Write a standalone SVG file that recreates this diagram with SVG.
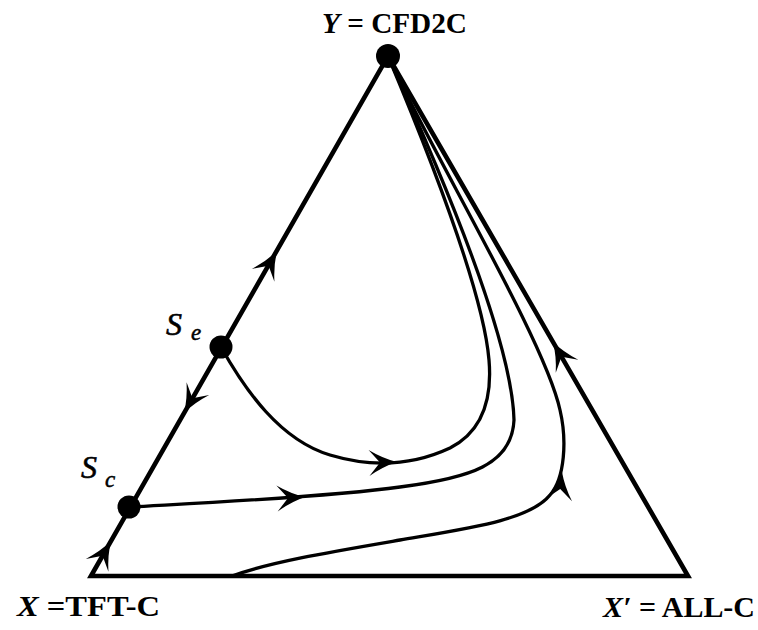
<svg xmlns="http://www.w3.org/2000/svg" width="758" height="630" viewBox="0 0 758 630">
<style>
.edge{fill:none;stroke:#000;stroke-width:4.6;stroke-linejoin:miter}
.flow{fill:none;stroke:#000;stroke-width:3.3;stroke-linecap:round}
.dot{fill:#000}
.lbl{font-family:"Liberation Serif","DejaVu Serif",serif;font-size:29px;font-weight:bold;fill:#000}
.it{font-style:italic}
.sv{font-family:"Liberation Serif","DejaVu Serif",serif;font-style:italic;font-size:32px;fill:#000;stroke:#000;stroke-width:0.6}
.sub{font-family:"Liberation Serif","DejaVu Serif",serif;font-style:italic;font-size:23px;fill:#000;stroke:#000;stroke-width:0.5}
</style>
<defs>
<path id="ah" d="M0,0 Q-14,-4 -28,-13 L-17,0 L-28,13 Q-14,4 0,0 Z" fill="#000"/>
</defs>
<g id="connectors">
<path class="edge" d="M91,576 L388,56 L688,576 Z"/>
<path class="flow" d="M221,347 C245,390 280,440 330,455 S420,462 450,448 C485,430 492,395 489,360 C484,300 440,180 388,56"/>
<path class="flow" d="M130,507 C200,503 330,497 400,487 C470,478 512,465 514,420 C512,340 440,170 388,56"/>
<path class="flow" d="M232,576 C270,562 330,552 400,540 C470,528 530,520 550,495 C565,478 567,440 560,410 C545,340 430,150 388,56"/>
<use href="#ah" transform="translate(277,251) rotate(-60.3)"/>
<use href="#ah" transform="translate(184,413) rotate(119.7)"/>
<use href="#ah" transform="translate(111,541) rotate(-60.3)"/>
<use href="#ah" transform="translate(553,342) rotate(-120)"/>
<use href="#ah" transform="translate(305,497) rotate(-3)"/>
<use href="#ah" transform="translate(397,462) rotate(-2)"/>
<use href="#ah" transform="translate(562,472) rotate(-84)"/>
</g>
<g id="node-Y">
<circle class="dot" cx="388" cy="56" r="12"/>
<text class="lbl" x="322" y="33" textLength="145" lengthAdjust="spacingAndGlyphs"><tspan class="it">Y</tspan> = CFD2C</text>
</g>
<g id="node-Se">
<circle class="dot" cx="221" cy="347" r="11.5"/>
<text class="sv" x="166" y="335">S</text>
<text class="sub" x="191" y="340">e</text>
</g>
<g id="node-Sc">
<circle class="dot" cx="129" cy="507" r="11.5"/>
<text class="sv" x="81" y="478">S</text>
<text class="sub" x="105" y="487">c</text>
</g>
<g id="node-X">
<text class="lbl" x="17" y="616" textLength="143" lengthAdjust="spacingAndGlyphs"><tspan class="it">X</tspan> =TFT-C</text>
</g>
<g id="node-Xp">
<text class="lbl" x="603" y="617" textLength="152" lengthAdjust="spacingAndGlyphs"><tspan class="it">X′</tspan> = ALL-C</text>
</g>
</svg>
